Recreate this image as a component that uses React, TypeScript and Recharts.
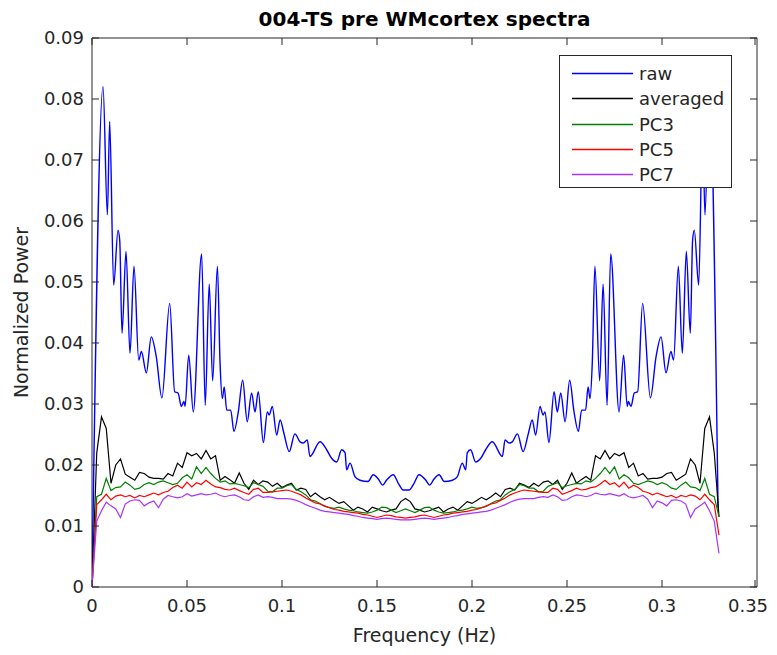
import React from 'react';
import { LineChart, Line, XAxis, YAxis, ReferenceArea, Legend } from 'recharts';

const FONT = '"DejaVu Sans", Verdana, sans-serif';
const INK = '#262626';

// frequency bins (Hz) for the smoothed spectra
const freqBins = Array.from({ length: 133 }, (_, i) => Number((i * 0.0025).toFixed(4)));

// raw spectrum, read as turning points
const rawFreq = [
  0, 0.0058, 0.0081, 0.0093, 0.0114, 0.0137, 0.0146, 0.0158, 0.0179, 0.02,
  0.0221, 0.0246, 0.026, 0.0286, 0.0312, 0.0338, 0.0368, 0.0409, 0.0435, 0.0453,
  0.047, 0.0484, 0.049, 0.0509, 0.0533, 0.0577, 0.0596, 0.0617, 0.0635, 0.066,
  0.0674, 0.0686, 0.0696, 0.0709, 0.073, 0.0747, 0.077, 0.0793, 0.0817, 0.084,
  0.0858, 0.0875, 0.0902, 0.0923, 0.0933, 0.0949, 0.0972, 0.099, 0.101, 0.1038,
  0.1068, 0.1095, 0.1112, 0.1133, 0.1147, 0.12, 0.1235, 0.1261, 0.1288, 0.1314,
  0.1332, 0.134, 0.1358, 0.1384, 0.141, 0.1453, 0.148, 0.1507, 0.153, 0.155,
  0.1586, 0.1612, 0.1638,
  0.1669, 0.1695, 0.1721, 0.1757, 0.1777, 0.18, 0.1827, 0.1854, 0.1897, 0.1923,
  0.1949, 0.1967, 0.1975, 0.1993, 0.2019, 0.2046, 0.2072, 0.2107, 0.216, 0.2174,
  0.2195, 0.2212, 0.2239, 0.2269, 0.2297, 0.2317, 0.2335, 0.2358, 0.2374, 0.2384,
  0.2405, 0.2432, 0.2449, 0.2467, 0.249, 0.2514, 0.2537, 0.256, 0.2577, 0.2598,
  0.2611, 0.2621, 0.2633, 0.2647, 0.2672, 0.269, 0.2711, 0.273, 0.2774, 0.2798,
  0.2817, 0.2823, 0.2837, 0.2854, 0.2872, 0.2898, 0.2939, 0.2969, 0.2995, 0.3021,
  0.3047, 0.3061, 0.3086, 0.3107, 0.3128, 0.3149, 0.3161, 0.317, 0.3193, 0.3214,
  0.3226, 0.3249, 0.3295,
];
const rawPower = [
  0, 0.082, 0.061, 0.0763, 0.0495, 0.0585, 0.0568, 0.0416, 0.055, 0.0383,
  0.0526, 0.0372, 0.0386, 0.0351, 0.041, 0.0378, 0.031, 0.0465, 0.032, 0.0318,
  0.0296, 0.0304, 0.0296, 0.038, 0.0287, 0.0546, 0.0298, 0.0497, 0.0338, 0.0526,
  0.0367, 0.0309, 0.0328, 0.029, 0.029, 0.0255, 0.0287, 0.0339, 0.0271, 0.0318,
  0.0287, 0.032, 0.0237, 0.0287, 0.0282, 0.0296, 0.0249, 0.0274, 0.0252, 0.0222,
  0.0251, 0.0238, 0.0236, 0.0241, 0.0214, 0.0238, 0.0225, 0.0211, 0.0205, 0.0225,
  0.022, 0.0192, 0.0203, 0.0181, 0.0175, 0.0173, 0.0184, 0.0177, 0.0167, 0.0175,
  0.0184, 0.017, 0.0159,
  0.0159, 0.017, 0.0184, 0.0175, 0.0167, 0.0177, 0.0184, 0.0173, 0.0175, 0.0181,
  0.0203, 0.0192, 0.022, 0.0225, 0.0205, 0.0211, 0.0225, 0.0238, 0.0214, 0.0241,
  0.0236, 0.0238, 0.0251, 0.0222, 0.0252, 0.0274, 0.0249, 0.0296, 0.0282, 0.0287,
  0.0237, 0.032, 0.0287, 0.0318, 0.0271, 0.0339, 0.0287, 0.0255, 0.029, 0.029,
  0.0328, 0.0309, 0.0367, 0.0526, 0.0338, 0.0497, 0.0298, 0.0546, 0.0287, 0.038,
  0.0296, 0.0304, 0.0296, 0.0318, 0.032, 0.0465, 0.031, 0.0378, 0.041, 0.0351,
  0.0386, 0.0372, 0.0526, 0.0383, 0.055, 0.0416, 0.0568, 0.0585, 0.0495, 0.0763,
  0.061, 0.082, 0.013,
];

const averaged = [
  0, 0.022, 0.0279, 0.026, 0.017, 0.02, 0.021, 0.0185, 0.018, 0.0175,
  0.0188, 0.0186, 0.018, 0.0178, 0.0178, 0.0177, 0.0186, 0.0182, 0.0203, 0.0196,
  0.022, 0.0215, 0.0219, 0.021, 0.0224, 0.021, 0.0215, 0.0175, 0.0181, 0.0176,
  0.017, 0.0187, 0.017, 0.016, 0.0175, 0.0168, 0.0174, 0.0172, 0.0165, 0.017,
  0.0163, 0.0167, 0.017, 0.0159, 0.0162, 0.016, 0.0148, 0.0154, 0.0148, 0.0143,
  0.0147, 0.0142, 0.0137, 0.014, 0.0133, 0.0126, 0.0131, 0.0128, 0.0123, 0.0131,
  0.0128, 0.0125, 0.0123, 0.0126, 0.0128, 0.014, 0.0145,
  0.014, 0.0128, 0.0126, 0.0123, 0.0125, 0.0128, 0.0131, 0.0123, 0.0128, 0.0131,
  0.0126, 0.0133, 0.014, 0.0137, 0.0142, 0.0147, 0.0143, 0.0148, 0.0154, 0.0148,
  0.016, 0.0162, 0.0159, 0.017, 0.0167, 0.0163, 0.017, 0.0165, 0.0172, 0.0174,
  0.0168, 0.0175, 0.016, 0.017, 0.0187, 0.017, 0.0176, 0.0181, 0.0175, 0.0215,
  0.021, 0.0224, 0.021, 0.0219, 0.0215, 0.022, 0.0196, 0.0203, 0.0182, 0.0186,
  0.0177, 0.0178, 0.0178, 0.018, 0.0186, 0.0188, 0.0175, 0.018, 0.0185, 0.021,
  0.02, 0.017, 0.026, 0.0279, 0.022, 0.0115,
];

const pc3 = [
  0, 0.0148, 0.0152, 0.0178, 0.0158, 0.0163, 0.0164, 0.0172, 0.0167, 0.016,
  0.0162, 0.0168, 0.0171, 0.0168, 0.0172, 0.0174, 0.0171, 0.0168, 0.017, 0.0179,
  0.0184, 0.0177, 0.0197, 0.0186, 0.0196, 0.0186, 0.0178, 0.0172, 0.0174, 0.0169,
  0.017, 0.0168, 0.0166, 0.0163, 0.0171, 0.0168, 0.0165, 0.0157, 0.0156, 0.0162,
  0.0162, 0.0166, 0.0168, 0.016, 0.0156, 0.0151, 0.0143, 0.0141, 0.0137, 0.0132,
  0.013, 0.0129, 0.0131, 0.0128, 0.0126, 0.0125, 0.0123, 0.0122, 0.0121, 0.0123,
  0.0126, 0.0131, 0.013, 0.0126, 0.0122, 0.0125, 0.0128,
  0.0125, 0.0122, 0.0126, 0.013, 0.0131, 0.0126, 0.0123, 0.0121, 0.0122, 0.0123,
  0.0125, 0.0126, 0.0128, 0.0131, 0.0129, 0.013, 0.0132, 0.0137, 0.0141, 0.0143,
  0.0151, 0.0156, 0.016, 0.0168, 0.0166, 0.0162, 0.0162, 0.0156, 0.0157, 0.0165,
  0.0168, 0.0171, 0.0163, 0.0166, 0.0168, 0.017, 0.0169, 0.0174, 0.0172, 0.0178,
  0.0186, 0.0196, 0.0186, 0.0197, 0.0177, 0.0184, 0.0179, 0.017, 0.0168, 0.0171,
  0.0174, 0.0172, 0.0168, 0.0171, 0.0168, 0.0162, 0.016, 0.0167, 0.0172, 0.0164,
  0.0163, 0.0158, 0.0178, 0.0152, 0.0148, 0.0115,
];

const pc5 = [
  0, 0.0135, 0.0143, 0.0152, 0.0143, 0.0149, 0.0151, 0.0148, 0.015, 0.0146,
  0.015, 0.0148, 0.0151, 0.0154, 0.0151, 0.0155, 0.0157, 0.0163, 0.0167, 0.0162,
  0.0172, 0.0164, 0.0171, 0.0168, 0.0175, 0.0169, 0.0164, 0.0163, 0.016, 0.0159,
  0.0162, 0.0158, 0.0155, 0.0152, 0.016, 0.0162, 0.0155, 0.0155, 0.0156, 0.0157,
  0.0158, 0.0159, 0.0157, 0.0154, 0.0151, 0.0146, 0.0142, 0.0138, 0.0136, 0.0133,
  0.013, 0.0127, 0.0126, 0.0124, 0.0123, 0.0122, 0.0121, 0.0119, 0.0118, 0.0116,
  0.0114, 0.0116, 0.0118, 0.0117, 0.0115, 0.0114, 0.0113,
  0.0114, 0.0115, 0.0117, 0.0118, 0.0116, 0.0114, 0.0116, 0.0118, 0.0119, 0.0121,
  0.0122, 0.0123, 0.0124, 0.0126, 0.0127, 0.013, 0.0133, 0.0136, 0.0138, 0.0142,
  0.0146, 0.0151, 0.0154, 0.0157, 0.0159, 0.0158, 0.0157, 0.0156, 0.0155, 0.0155,
  0.0162, 0.016, 0.0152, 0.0155, 0.0158, 0.0162, 0.0159, 0.016, 0.0163, 0.0164,
  0.0169, 0.0175, 0.0168, 0.0171, 0.0164, 0.0172, 0.0162, 0.0167, 0.0163, 0.0157,
  0.0155, 0.0151, 0.0154, 0.0151, 0.0148, 0.015, 0.0146, 0.015, 0.0148, 0.0151,
  0.0149, 0.0143, 0.0152, 0.0143, 0.0135, 0.0085,
];

const pc7 = [
  0, 0.0108, 0.0125, 0.0139, 0.0133, 0.0128, 0.0114, 0.0136, 0.0141, 0.0143,
  0.0142, 0.0133, 0.0138, 0.0141, 0.013, 0.0144, 0.015, 0.0148, 0.0146, 0.0148,
  0.0153, 0.0149, 0.0151, 0.0153, 0.0151, 0.0152, 0.0154, 0.015, 0.0148, 0.015,
  0.0151, 0.0148, 0.0143, 0.0142, 0.0148, 0.0151, 0.0147, 0.0148, 0.0147, 0.0145,
  0.0145, 0.0145, 0.0144, 0.0142, 0.0139, 0.0135, 0.0132, 0.0129, 0.0126, 0.0124,
  0.0123, 0.0122, 0.0121, 0.012, 0.0119, 0.0117, 0.0116, 0.0114, 0.0113, 0.0112,
  0.0111, 0.0112, 0.0113, 0.0112, 0.0111, 0.011, 0.011,
  0.011, 0.0111, 0.0112, 0.0113, 0.0112, 0.0111, 0.0112, 0.0113, 0.0114, 0.0116,
  0.0117, 0.0119, 0.012, 0.0121, 0.0122, 0.0123, 0.0124, 0.0126, 0.0129, 0.0132,
  0.0135, 0.0139, 0.0142, 0.0144, 0.0145, 0.0145, 0.0145, 0.0147, 0.0148, 0.0147,
  0.0151, 0.0148, 0.0142, 0.0143, 0.0148, 0.0151, 0.015, 0.0148, 0.015, 0.0154,
  0.0152, 0.0151, 0.0153, 0.0151, 0.0149, 0.0153, 0.0148, 0.0146, 0.0148, 0.015,
  0.0144, 0.013, 0.0141, 0.0138, 0.0133, 0.0142, 0.0143, 0.0141, 0.0136, 0.0114,
  0.0128, 0.0133, 0.0139, 0.0125, 0.0108, 0.0055,
];

const xTicks = [0, 0.05, 0.1, 0.15, 0.2, 0.25, 0.3, 0.35];
const yTicks = [0, 0.01, 0.02, 0.03, 0.04, 0.05, 0.06, 0.07, 0.08, 0.09];

const SERIES = [
  { key: 'raw', name: 'raw', color: '#0000ff' },
  { key: 'averaged', name: 'averaged', color: '#000000' },
  { key: 'pc3', name: 'PC3', color: '#008000' },
  { key: 'pc5', name: 'PC5', color: '#ff0000' },
  { key: 'pc7', name: 'PC7', color: '#a833ff' },
];

const W = 761;
const H = 639;
const PLOT = { left: 84, right: 749, top: 30, bottom: 579 };
const TICK_LEN = 7;

const rawData = rawFreq.map((f, i) => ({ freq: f, raw: rawPower[i] }));
const smoothData = freqBins.map((f, i) => ({
  freq: f,
  averaged: averaged[i],
  pc3: pc3[i],
  pc5: pc5[i],
  pc7: pc7[i],
}));

function XTick({ x, payload }: any) {
  // the last label would run past the page edge, so pull it in a little
  const tx = Math.min(x, W - 21);
  return (
    <g>
      <line x1={x} x2={x} y1={PLOT.bottom} y2={PLOT.bottom - TICK_LEN} stroke={INK} />
      <line x1={x} x2={x} y1={PLOT.top} y2={PLOT.top + TICK_LEN} stroke={INK} />
      <text x={tx} y={PLOT.bottom + 25} textAnchor="middle" fontSize={18} fontFamily={FONT} fill={INK}>
        {payload.value}
      </text>
    </g>
  );
}

function YTick({ y, payload }: any) {
  return (
    <g>
      <line x1={PLOT.left} x2={PLOT.left + TICK_LEN} y1={y} y2={y} stroke={INK} />
      <line x1={PLOT.right - TICK_LEN} x2={PLOT.right} y1={y} y2={y} stroke={INK} />
      <text x={PLOT.left - 8} y={y + 6} textAnchor="end" fontSize={18} fontFamily={FONT} fill={INK}>
        {payload.value}
      </text>
    </g>
  );
}

function LegendBox() {
  return (
    <div
      style={{
        width: 173,
        height: 133,
        boxSizing: 'border-box',
        border: `1px solid ${INK}`,
        background: '#fff',
        position: 'relative',
        fontFamily: FONT,
        fontSize: 18,
        color: INK,
      }}
    >
      {SERIES.map((s, i) => (
        <div
          key={s.key}
          style={{ position: 'absolute', left: 0, top: 5 + i * 25.3, height: 25, display: 'flex', alignItems: 'center' }}
        >
          <svg width={73} height={25} style={{ display: 'block' }}>
            <line x1={12} x2={73} y1={12.5} y2={12.5} stroke={s.color} strokeWidth={1.3} />
          </svg>
          <span style={{ marginLeft: 6, lineHeight: '25px' }}>{s.name}</span>
        </div>
      ))}
    </div>
  );
}

export default function App() {
  return (
    <div style={{ width: W, height: H, background: '#fff' }}>
      <LineChart width={W} height={H} margin={{ top: 30, right: W - PLOT.right, bottom: 20, left: 24 }}>
        <XAxis
          dataKey="freq"
          type="number"
          domain={[0, 0.35]}
          ticks={xTicks}
          axisLine={false}
          tickLine={false}
          tick={<XTick />}
          height={40}
          allowDataOverflow
        />
        <YAxis
          type="number"
          domain={[0, 0.09]}
          ticks={yTicks}
          axisLine={false}
          tickLine={false}
          tick={<YTick />}
          width={60}
          allowDataOverflow
        />
        <Line
          data={rawData}
          dataKey="raw"
          name="raw"
          type="monotone"
          stroke="#0000ff"
          strokeWidth={1.4}
          dot={false}
          isAnimationActive={false}
        />
        {SERIES.slice(1).map((s) => (
          <Line
            key={s.key}
            data={smoothData}
            dataKey={s.key}
            name={s.name}
            stroke={s.color}
            strokeWidth={1.2}
            dot={false}
            isAnimationActive={false}
          />
        ))}
        <ReferenceArea x1={0} x2={0.35} y1={0} y2={0.09} fill="none" stroke={INK} strokeWidth={1} ifOverflow="visible" />
        <Legend
          layout="horizontal"
          verticalAlign="middle"
          align="center"
          content={() => <LegendBox />}
          wrapperStyle={{ position: 'absolute', left: 551, top: 47, width: 173, height: 133 }}
        />
        <text x={(PLOT.left + PLOT.right) / 2} y={18} textAnchor="middle" fontSize={20} fontWeight="bold" fontFamily={FONT} fill="#000">
          004-TS pre WMcortex spectra
        </text>
        <text x={(PLOT.left + PLOT.right) / 2} y={634} textAnchor="middle" fontSize={19} fontFamily={FONT} fill={INK}>
          Frequency (Hz)
        </text>
        <text
          x={20}
          y={(PLOT.top + PLOT.bottom) / 2}
          textAnchor="middle"
          fontSize={19}
          fontFamily={FONT}
          fill={INK}
          transform={`rotate(-90 20 ${(PLOT.top + PLOT.bottom) / 2})`}
        >
          Normalized Power
        </text>
      </LineChart>
    </div>
  );
}
